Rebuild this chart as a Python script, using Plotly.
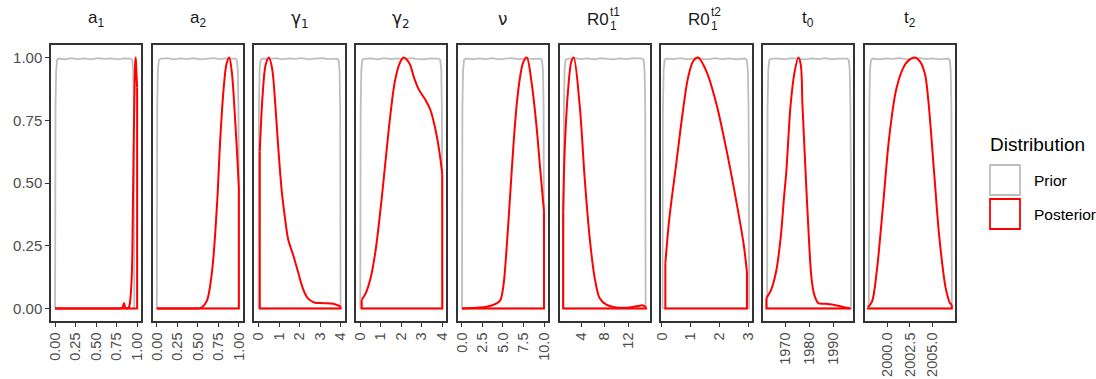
import plotly.graph_objects as go
from plotly.subplots import make_subplots

# ---------------- data ----------------
# a1
prior_a1_x = [0, 0.005, 0.013, 0.024, 0.044, 0.12, 0.2, 0.28, 0.36, 0.44, 0.52, 0.6, 0.68, 0.76, 0.84, 0.921, 0.941, 0.952, 0.96, 0.965]
prior_a1_y = [0.5, 0.8, 0.95, 0.99, 0.996, 0.993, 0.998, 0.994, 0.997, 0.993, 0.998, 0.995, 0.997, 0.993, 0.997, 0.996, 0.99, 0.95, 0.8, 0.5]
post_a1_x = [0, 0.4, 0.78, 0.81, 0.825, 0.84, 0.855, 0.87, 0.90, 0.915, 0.936, 0.948, 0.958, 0.968, 0.977, 0.983, 0.99, 1.0]
post_a1_y = [0, 0.0, 0.0, 0.001, 0.006, 0.022, 0.005, 0.0, 0.005, 0.03, 0.14, 0.4, 0.65, 0.87, 0.98, 1.0, 0.95, 0.88]

# a2
prior_a2_x = [0, 0.005, 0.013, 0.025, 0.045, 0.13, 0.21, 0.29, 0.37, 0.45, 0.53, 0.61, 0.69, 0.77, 0.85, 0.955, 0.975, 0.987, 0.995, 1.0]
prior_a2_y = [0.5, 0.8, 0.95, 0.99, 0.995, 0.998, 0.993, 0.997, 0.994, 0.998, 0.993, 0.996, 0.998, 0.994, 0.997, 0.996, 0.99, 0.95, 0.8, 0.5]
post_a2_x = [0, 0.3, 0.50, 0.55, 0.61, 0.673, 0.734, 0.774, 0.815, 0.85, 0.883, 0.915, 0.956, 0.984, 1.0]
post_a2_y = [0, 0.0, 0.0, 0.004, 0.03, 0.147, 0.413, 0.679, 0.878, 0.975, 1.0, 0.94, 0.745, 0.585, 0.48]

# gamma1
prior_g1_x = [0, 0.02, 0.05, 0.1, 0.18, 0.5, 0.85, 1.15, 1.5, 1.8, 2.1, 2.45, 2.75, 3.1, 3.4, 3.82, 3.9, 3.95, 3.98, 4.0]
prior_g1_y = [0.5, 0.8, 0.95, 0.99, 0.996, 0.994, 0.998, 0.993, 0.997, 0.995, 0.998, 0.993, 0.996, 0.998, 0.994, 0.996, 0.99, 0.95, 0.8, 0.5]
post_g1_x = [0.06, 0.189, 0.346, 0.504, 0.661, 0.819, 0.976, 1.134, 1.291, 1.449, 1.685, 1.921, 2.157, 2.394, 2.709, 3.18, 3.65, 4.0]
post_g1_y = [0.625, 0.838, 0.971, 1.0, 0.957, 0.811, 0.625, 0.466, 0.36, 0.274, 0.214, 0.147, 0.081, 0.041, 0.024, 0.021, 0.019, 0.008]

# gamma2
prior_g2_x = [0, 0.02, 0.05, 0.1, 0.18, 0.5, 0.85, 1.15, 1.5, 1.8, 2.1, 2.45, 2.75, 3.1, 3.4, 3.82, 3.9, 3.95, 3.98, 4.0]
prior_g2_y = [0.5, 0.8, 0.95, 0.99, 0.995, 0.997, 0.993, 0.998, 0.994, 0.997, 0.993, 0.998, 0.995, 0.993, 0.997, 0.996, 0.99, 0.95, 0.8, 0.5]
post_g2_x = [0.07, 0.268, 0.504, 0.74, 0.976, 1.213, 1.449, 1.685, 1.921, 2.11, 2.394, 2.63, 2.866, 3.181, 3.417, 3.654, 3.858, 4.0]
post_g2_y = [0.035, 0.061, 0.121, 0.227, 0.386, 0.572, 0.758, 0.904, 0.977, 1.0, 0.977, 0.918, 0.871, 0.831, 0.792, 0.718, 0.625, 0.533]

# nu
prior_nu_x = [0, 0.05, 0.13, 0.25, 0.45, 1.3, 2.1, 2.9, 3.7, 4.5, 5.3, 6.1, 6.9, 7.7, 8.5, 9.55, 9.75, 9.87, 9.95, 10.0]
prior_nu_y = [0.5, 0.8, 0.95, 0.99, 0.996, 0.993, 0.997, 0.994, 0.998, 0.993, 0.996, 0.998, 0.993, 0.997, 0.995, 0.996, 0.99, 0.95, 0.8, 0.5]
post_nu_x = [0, 1.81, 3.02, 4.03, 4.64, 5.04, 5.44, 5.85, 6.25, 6.65, 7.06, 7.46, 7.9, 8.47, 9.07, 9.56, 10.0]
post_nu_y = [0, 0.003, 0.007, 0.017, 0.031, 0.088, 0.24, 0.44, 0.639, 0.805, 0.918, 0.981, 1.0, 0.904, 0.732, 0.546, 0.386]

# R0_1^t1
prior_r1_x = [0.95, 1.02, 1.13, 1.3, 1.58, 2.8, 3.9, 5.0, 6.2, 7.3, 8.4, 9.5, 10.6, 11.8, 12.9, 14.37, 14.65, 14.82, 14.93, 15.0]
prior_r1_y = [0.5, 0.8, 0.95, 0.99, 0.995, 0.998, 0.994, 0.997, 0.993, 0.998, 0.995, 0.993, 0.997, 0.994, 0.998, 0.996, 0.99, 0.95, 0.8, 0.5]
post_r1_x = [0.88, 1.14, 1.71, 2.29, 2.69, 3.71, 4.57, 5.43, 6.29, 7.14, 8.29, 10.0, 12.29, 14.0, 14.57, 15.1]
post_r1_y = [0.386, 0.625, 0.865, 0.984, 1.0, 0.811, 0.519, 0.28, 0.121, 0.041, 0.015, 0.004, 0.004, 0.011, 0.012, 0.004]

# R0_1^t2
prior_r2_x = [0.02, 0.035, 0.06, 0.095, 0.155, 0.41, 0.65, 0.89, 1.13, 1.37, 1.61, 1.85, 2.09, 2.34, 2.58, 2.895, 2.955, 2.99, 3.015, 3.03]
prior_r2_y = [0.5, 0.8, 0.95, 0.99, 0.996, 0.994, 0.998, 0.993, 0.997, 0.995, 0.993, 0.998, 0.994, 0.997, 0.993, 0.996, 0.99, 0.95, 0.8, 0.5]
post_r2_x = [0.12, 0.259, 0.494, 0.729, 0.906, 1.082, 1.259, 1.553, 1.906, 2.259, 2.612, 2.847, 2.96]
post_r2_y = [0.18, 0.36, 0.572, 0.785, 0.918, 0.984, 1.0, 0.944, 0.811, 0.625, 0.413, 0.254, 0.145]

# t0
prior_t0_x = [1962.2, 1962.4, 1962.7, 1963.1, 1963.8, 1966.8, 1969.6, 1972.4, 1975.3, 1978.1, 1980.9, 1983.7, 1986.6, 1989.4, 1992.2, 1995.9, 1996.6, 1997.0, 1997.3, 1997.5]
prior_t0_y = [0.5, 0.8, 0.95, 0.99, 0.995, 0.997, 0.993, 0.998, 0.995, 0.993, 0.997, 0.994, 0.998, 0.993, 0.996, 0.996, 0.99, 0.95, 0.8, 0.5]
post_t0_x = [1961.9, 1963.9, 1966.0, 1967.9, 1969.3, 1970.3, 1972.1, 1973.8, 1975.4, 1976.4, 1977.1, 1978.4, 1979.8, 1980.9, 1982.1, 1983.8, 1986.6, 1990.1, 1993.7, 1997.2]
post_t0_y = [0.041, 0.074, 0.147, 0.28, 0.44, 0.546, 0.811, 0.944, 1.0, 0.971, 0.811, 0.546, 0.28, 0.121, 0.054, 0.021, 0.019, 0.015, 0.007, 0.001]

# t2
prior_t2_x = [1998.0, 1998.05, 1998.12, 1998.23, 1998.41, 1999.2, 1999.9, 2000.6, 2001.4, 2002.1, 2002.8, 2003.6, 2004.3, 2005.0, 2005.7, 2006.69, 2006.87, 2006.98, 2007.05, 2007.1]
prior_t2_y = [0.5, 0.8, 0.95, 0.99, 0.996, 0.993, 0.997, 0.995, 0.998, 0.993, 0.996, 0.998, 0.994, 0.997, 0.993, 0.996, 0.99, 0.95, 0.8, 0.5]
post_t2_x = [1997.9, 1998.35, 1998.86, 1999.56, 2000.22, 2001.03, 2001.95, 2002.5, 2003.05, 2003.6, 2004.15, 2004.52, 2005.15, 2005.74, 2006.43, 2006.91, 2007.1]
post_t2_y = [0.004, 0.028, 0.147, 0.413, 0.679, 0.878, 0.971, 0.993, 1.0, 0.985, 0.935, 0.83, 0.546, 0.28, 0.081, 0.021, 0.015]

# x tick labels per panel
ticks_a1 = ["0.00", "0.25", "0.50", "0.75", "1.00"]
ticks_a2 = ["0.00", "0.25", "0.50", "0.75", "1.00"]
ticks_g1 = ["0", "1", "2", "3", "4"]
ticks_g2 = ["0", "1", "2", "3", "4"]
ticks_nu = ["0.0", "2.5", "5.0", "7.5", "10.0"]
ticks_r1 = ["4", "8", "12"]
ticks_r2 = ["0", "1", "2", "3"]
ticks_t0 = ["1970", "1980", "1990"]
ticks_t2 = ["2000.0", "2002.5", "2005.0"]

y_ticks = ["0.00", "0.25", "0.50", "0.75", "1.00"]

legend_title = "Distribution"
legend_labels = ["Prior", "Posterior"]

# ---------------- layout / style ----------------
W, H = 1096, 379
ML, MR, MT, MB = 51, 141, 45, 58
PW = W - ML - MR
PH = H - MT - MB
GAP = 11.5
FONT = "Liberation Sans, Arial, Helvetica, sans-serif"
GREEK = "DejaVu Sans, Liberation Sans, sans-serif"
GREY = "#BEBEBE"
RED = "#FF0000"
BORDER = "#333333"
TICKC = "#4D4D4D"

panels = [
    (prior_a1_x, prior_a1_y, post_a1_x, post_a1_y, ticks_a1, [-0.05, 1.05]),
    (prior_a2_x, prior_a2_y, post_a2_x, post_a2_y, ticks_a2, [-0.05, 1.05]),
    (prior_g1_x, prior_g1_y, post_g1_x, post_g1_y, ticks_g1, [-0.2, 4.2]),
    (prior_g2_x, prior_g2_y, post_g2_x, post_g2_y, ticks_g2, [-0.2, 4.2]),
    (prior_nu_x, prior_nu_y, post_nu_x, post_nu_y, ticks_nu, [-0.5, 10.5]),
    (prior_r1_x, prior_r1_y, post_r1_x, post_r1_y, ticks_r1, [0.28, 15.72]),
    (prior_r2_x, prior_r2_y, post_r2_x, post_r2_y, ticks_r2, [-0.02, 3.12]),
    (prior_t0_x, prior_t0_y, post_t0_x, post_t0_y, ticks_t0, [1960.5, 1998.5]),
    (prior_t2_x, prior_t2_y, post_t2_x, post_t2_y, ticks_t2, [1997.55, 2007.45]),
]

fig = make_subplots(rows=1, cols=9, horizontal_spacing=GAP / PW)

for i, (prx, pry, pox, poy, tks, xr) in enumerate(panels):
    col = i + 1
    # prior: closed density outline
    fig.add_trace(go.Scatter(
        x=[prx[0]] + prx + [prx[-1], prx[0]],
        y=[0] + pry + [0, 0],
        mode="lines", line=dict(color=GREY, width=1.8),
        hoverinfo="skip", showlegend=False), row=1, col=col)
    # posterior baseline & end segments
    fig.add_trace(go.Scatter(
        x=[pox[0], pox[0], pox[-1], pox[-1]],
        y=[poy[0], 0, 0, poy[-1]],
        mode="lines", line=dict(color=RED, width=2),
        hoverinfo="skip", showlegend=False), row=1, col=col)
    # posterior curve
    fig.add_trace(go.Scatter(
        x=pox, y=poy, mode="lines",
        line=dict(color=RED, width=2, shape="spline", smoothing=0.9),
        hoverinfo="skip", showlegend=False), row=1, col=col)

    fig.update_xaxes(
        range=xr, tickvals=[float(t) for t in tks], ticktext=tks, tickangle=-90,
        showline=True, mirror=True, linecolor=BORDER, linewidth=1.5,
        ticks="outside", ticklen=4, tickwidth=1.3, tickcolor=BORDER,
        tickfont=dict(family=FONT, size=14.5, color=TICKC), automargin=False,
        showgrid=False, zeroline=False, row=1, col=col)
    fig.update_yaxes(
        range=[-0.05, 1.05], automargin=False,
        showline=True, mirror=True, linecolor=BORDER, linewidth=1.5,
        showgrid=False, zeroline=False, row=1, col=col)
    if col == 1:
        fig.update_yaxes(tickvals=[float(t) for t in y_ticks], ticktext=y_ticks,
                         ticks="outside", ticklen=4, tickwidth=1.3, tickcolor=BORDER,
                         tickfont=dict(family=FONT, size=15, color=TICKC), row=1, col=col)
    else:
        fig.update_yaxes(showticklabels=False, ticks="", row=1, col=col)

# ---------------- strip titles ----------------
simple_titles = {0: ("a<sub>1</sub>", FONT), 1: ("a<sub>2</sub>", FONT),
                 2: ("γ<sub>1</sub>", GREEK), 3: ("γ<sub>2</sub>", GREEK),
                 4: ("ν", GREEK), 7: ("t<sub>0</sub>", FONT), 8: ("t<sub>2</sub>", FONT)}
annotations = []
def xdom(i):
    return "x domain" if i == 0 else f"x{i+1} domain"

for i, (txt, fam) in simple_titles.items():
    annotations.append(dict(text=txt, xref=xdom(i), yref="paper", x=0.5, y=1,
                            yanchor="middle", xanchor="center", yshift=26, showarrow=False,
                            font=dict(family=fam, size=17, color="#1A1A1A")))
for i, sup in ((5, "t1"), (6, "t2")):
    annotations.append(dict(text="R0", xref=xdom(i), yref="paper", x=0.5, y=1,
                            yanchor="middle", xanchor="right", yshift=26, xshift=5, showarrow=False,
                            borderpad=0, font=dict(family=FONT, size=17, color="#1A1A1A")))
    annotations.append(dict(text=sup, xref=xdom(i), yref="paper", x=0.5, y=1,
                            yanchor="middle", xanchor="left", yshift=33, xshift=4, showarrow=False,
                            borderpad=0, font=dict(family=FONT, size=12, color="#1A1A1A")))
    annotations.append(dict(text="1", xref=xdom(i), yref="paper", x=0.5, y=1,
                            yanchor="middle", xanchor="left", yshift=19, xshift=4, showarrow=False,
                            borderpad=0, font=dict(family=FONT, size=12, color="#1A1A1A")))

# ---------------- legend (manual) ----------------
def pxx(x):
    return (x - ML) / PW
def pxy(y):
    return (H - MB - y) / PH

annotations.append(dict(text=legend_title, xref="paper", yref="paper", x=pxx(988), y=pxy(144),
                        xanchor="left", yanchor="middle", showarrow=False,
                        font=dict(family=FONT, size=19, color="#000000")))
shapes = []
for k, (lab, colr) in enumerate(zip(legend_labels, [GREY, RED])):
    y0 = 165 + k * 34
    shapes.append(dict(type="rect", xref="paper", yref="paper",
                       x0=pxx(990), x1=pxx(1020), y0=pxy(y0), y1=pxy(y0 + 30),
                       line=dict(color=colr, width=1.8), fillcolor="white"))
    annotations.append(dict(text=lab, xref="paper", yref="paper", x=pxx(1032), y=pxy(y0 + 15.5),
                            xanchor="left", yanchor="middle", showarrow=False,
                            font=dict(family=FONT, size=15.5, color="#000000")))

fig.update_layout(
    width=W, height=H,
    margin=dict(l=ML, r=MR, t=MT, b=MB, pad=0, autoexpand=False),
    paper_bgcolor="white", plot_bgcolor="white",
    showlegend=False,
    annotations=annotations, shapes=shapes,
    font=dict(family=FONT),
)

fig.write_html("out.html", config={"displayModeBar": False},
               post_script="document.body.style.margin='0';document.body.style.padding='0';document.body.style.overflow='hidden';")
